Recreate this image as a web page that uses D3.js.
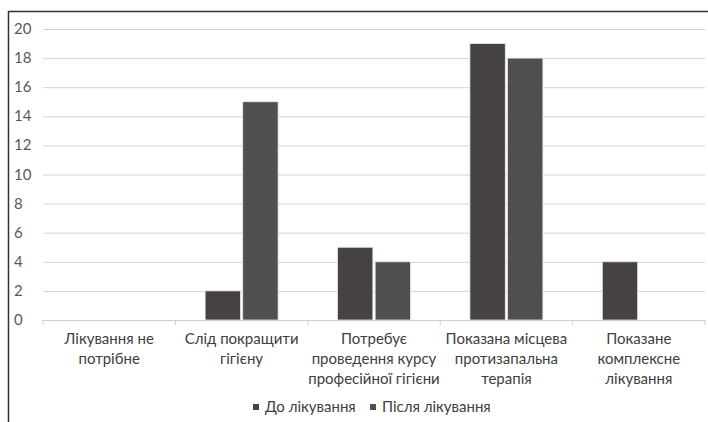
<!DOCTYPE html>
<html><head><meta charset="utf-8">
<script src="https://cdn.jsdelivr.net/npm/d3@7"></script>
<style>body{margin:0;background:#fff}svg{display:block}text{font-family:Lato,"Liberation Sans",sans-serif}</style>
</head><body>
<svg id="c" width="708" height="422"></svg>
<script>
const categories = [
  ["Лікування не", "потрібне"],
  ["Слід покращити", "гігієну"],
  ["Потребує", "проведення курсу", "професійної гігієни"],
  ["Показана місцева", "протизапальна", "терапія"],
  ["Показане", "комплексне", "лікування"]
];
const seriesNames = ["До лікування", "Після лікування"];
const before = [0, 2, 5, 19, 4];
const after = [0, 15, 4, 18, 0];
const yTicks = [0, 2, 4, 6, 8, 10, 12, 14, 16, 18, 20];
const colors = ["#464243", "#504e4f"];

(function () {
const svg = d3.select("#c");
svg.append("line").attr("x1", 8).attr("x2", 708).attr("y1", 11.5).attr("y2", 11.5)
  .attr("stroke", "#333").attr("stroke-width", 1.5);
svg.append("line").attr("x1", 8.5).attr("x2", 8.5).attr("y1", 11).attr("y2", 422)
  .attr("stroke", "#333").attr("stroke-width", 1.5);

const pl = 43, pr = 705, pt = 29, pb = 320;
const x = d3.scaleBand().domain(d3.range(categories.length)).range([pl, pr]);
const y = d3.scaleLinear().domain([0, 20]).range([pb, pt]);
const xs = d3.scaleBand().domain([0, 1]).range([0, 73]).paddingInner(0.06);

svg.append("g").selectAll("line").data(yTicks.filter(t => t > 0)).join("line")
  .attr("x1", pl).attr("x2", pr).attr("y1", d => y(d) + 0.5).attr("y2", d => y(d) + 0.5)
  .attr("stroke", "#d4d4d4").attr("stroke-width", 1);

svg.append("g").selectAll("text").data(yTicks).join("text")
  .attr("x", 14).attr("y", d => y(d) + 5).attr("font-size", 15).attr("fill", "#595959").text(d => d);

const series = [before, after];
const g = svg.append("g");
categories.forEach((c, i) => {
  const cx = x(i) + x.bandwidth() / 2 - 36.5;
  series.forEach((s, j) => {
    if (s[i] > 0) {
      g.append("rect").attr("x", cx + xs(j)).attr("y", y(s[i]))
        .attr("width", xs.bandwidth()).attr("height", y(0) - y(s[i]))
        .attr("fill", colors[j]).attr("stroke", "#e8e8e8").attr("stroke-width", 0.8);
    }
  });
});

const xAxis = svg.append("g");
xAxis.append("line").attr("x1", pl).attr("x2", pr).attr("y1", pb + 0.5).attr("y2", pb + 0.5)
  .attr("stroke", "#cfcfcf");
xAxis.selectAll("line.t").data(d3.range(categories.length + 1)).join("line").attr("class", "t")
  .attr("x1", i => i < categories.length ? x(i) : pr).attr("x2", i => i < categories.length ? x(i) : pr)
  .attr("y1", pb).attr("y2", pb + 5).attr("stroke", "#cfcfcf");
categories.forEach((lines, i) => {
  const t = xAxis.append("text").attr("text-anchor", "middle").attr("font-size", 15).attr("fill", "#404040");
  lines.forEach((ln, k) => t.append("tspan").attr("x", x(i) + x.bandwidth() / 2).attr("y", 344 + k * 20).text(ln));
});

const legX = [253, 370];
seriesNames.forEach((n, j) => {
  svg.append("rect").attr("x", legX[j]).attr("y", 404).attr("width", 6).attr("height", 6).attr("fill", colors[j]);
  svg.append("text").attr("x", legX[j] + 12).attr("y", 412).attr("font-size", 15).attr("fill", "#404040").text(n);
});
})();
</script>
</body></html>
